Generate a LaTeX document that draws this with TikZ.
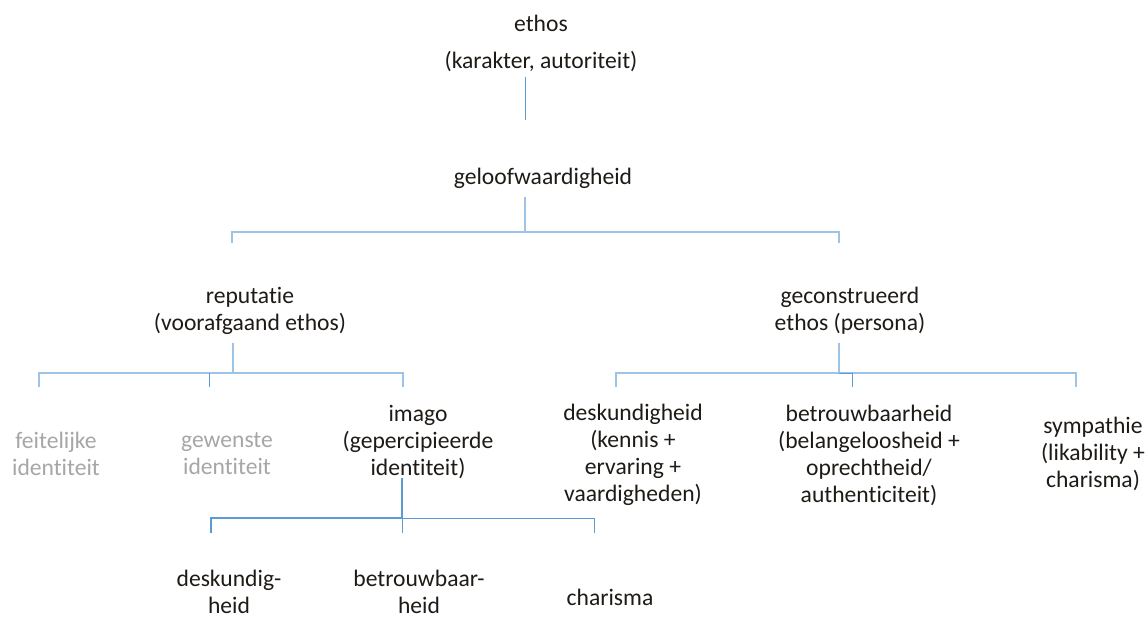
\documentclass[tikz,border=0pt]{standalone}
\usepackage{fontspec}
\setmainfont{Carlito}[Ligatures=NoCommon]
\usetikzlibrary{positioning}
\definecolor{busblue}{RGB}{157,195,230}
\definecolor{midblue}{RGB}{91,155,213}
\definecolor{softgrey}{RGB}{166,166,166}
\definecolor{inkdark}{RGB}{30,26,22}
\tikzset{
  lbl/.style={font=\fontsize{23.6}{27}\selectfont, align=center, text=inkdark, inner sep=1pt},
  faded/.style={lbl, text=softgrey},
  bus/.style={draw=busblue, line width=2.5pt},
  thinbus/.style={draw=midblue, line width=0.9pt},
  darkbus/.style={draw=midblue, line width=2.2pt},
}

\begin{document}
\begin{tikzpicture}[x=1pt,y=-1pt]
    \useasboundingbox (0,0) rectangle (1146,619);

    % top
    \node (ethos) [lbl] at (541,43) {ethos\\[10pt](karakter, autoriteit)};
    \node (geloof) [lbl] at (543,178) {geloofwaardigheid};

    % second level
    \node (rep) [lbl] at (250,311) {reputatie\\(voorafgaand ethos)};
    \node (geco) [lbl] at (850,311) {geconstrueerd\\ethos (persona)};

    % third level
    \node (feit) [faded] at (56,454) {feitelijke\\identiteit};
    \node (gew) [faded] at (227,454) {gewenste\\identiteit};
    \node (imago) [lbl] at (418,442) {imago\\(gepercipieerde\\identiteit)};
    \node (desk) [lbl] at (633,455) {deskundigheid\\(kennis +\\ervaring +\\vaardigheden)};
    \node (betr) [lbl] at (869,455) {betrouwbaarheid\\(belangeloosheid +\\oprechtheid/\\authenticiteit)};
    \node (symp) [lbl] at (1093,454) {sympathie\\(likability +\\charisma)};

    % under imago
    \node (deskh) [lbl] at (229,592) {deskundig-\\heid};
    \node (betrh) [lbl] at (419,592) {betrouwbaar-\\heid};
    \node (charis) [lbl] at (610,597) {charisma};

    % bus points
    \coordinate (busA) at (525,232);
    \coordinate (busB) at (233,373);
    \coordinate (busC) at (839,373);
    \coordinate (busD) at (402,518);

    % connectors
    \draw[thinbus] (525,77) -- (525,120);

    \draw[bus] (busA |- 0,197) -- (busA);
    \draw[bus] (232,243) -- (232,232) -| ([yshift=-11pt]busC |- busA);

    \draw[bus] (busB |- 0,343) -- (busB);
    \draw[bus] ([xshift=-194pt,yshift=-14pt]busB) -- ([xshift=-194pt]busB) -- (403,373) -- (403,387);
    \draw[thinbus] (209,373) -- (209,387);

    \draw[bus] (busC |- 0,343) -- (busC);
    \draw[bus] (616,387) -- (616,373) -- (1076,373) -- (1076,387);
    \draw[thinbus] (busC) -- (852,373) -- (852,387);

    \draw[darkbus] (busD |- 0,478) -- (busD);
    \draw[darkbus] (busD) -- (211,518) -- (211,533);
    \draw[thinbus] (busD) -- (594,518) -- (594,533);
    \draw[thinbus] (busD) -- (402,533);
\end{tikzpicture}
\end{document}
